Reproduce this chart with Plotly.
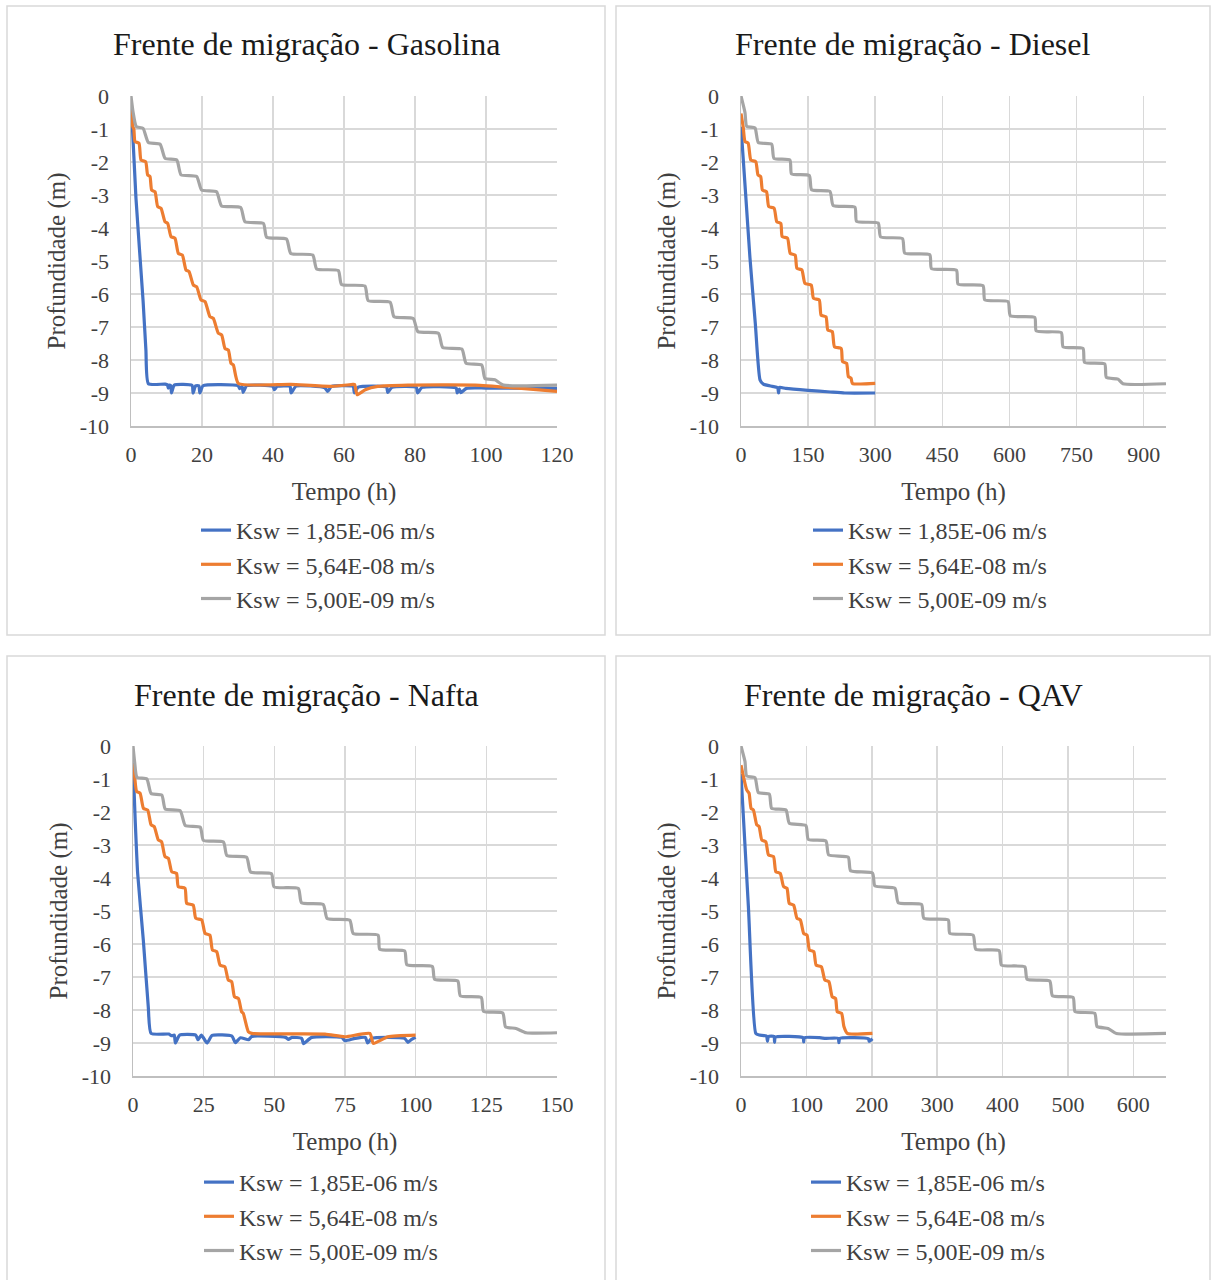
import plotly.graph_objects as go

W, H = 1211, 1280
FONT = "Liberation Serif"

SERIES_NAMES = ["Ksw = 1,85E-06 m/s", "Ksw = 5,64E-08 m/s", "Ksw = 5,00E-09 m/s"]
SERIES_COLORS = ["#4472C4", "#ED7D31", "#A5A5A5"]
CHART_TITLES = ["Frente de migração - Gasolina", "Frente de migração - Diesel",
                "Frente de migração - Nafta", "Frente de migração - QAV"]
X_TITLE = "Tempo (h)"
Y_TITLE = "Profundidade (m)"
Y_TICKVALS = [0, -1, -2, -3, -4, -5, -6, -7, -8, -9, -10]
Y_TICKTEXT = ["0", "-1", "-2", "-3", "-4", "-5", "-6", "-7", "-8", "-9", "-10"]

# ---------------- Gasolina ----------------
gas_k1_t = [0, 1.4, 3.4, 4.2, 4.9, 9.6, 10.3, 10.5, 10.8, 11.2, 11.4, 12.2, 17.2, 17.5, 18.2, 19.1, 19.4, 20.3,
            30.2, 30.6, 31.3, 31.6, 32.6, 40.0, 40.4, 41.2, 44.8, 45.1, 46.5, 54.6, 55.4, 56.5, 62.6, 62.9, 64.0,
            72.0, 72.3, 73.5, 80.4, 80.7, 82.0, 91.6, 91.9, 92.5, 92.9, 94.5, 100, 120]
gas_k1_d = [-0.1, -3.1, -6.2, -7.7, -8.72, -8.73, -8.76, -8.85, -8.76, -8.78, -9.0, -8.76, -8.77, -9.0, -8.78, -8.78,
            -9.0, -8.78, -8.78, -8.87, -8.8, -8.98, -8.78, -8.8, -8.9, -8.8, -8.8, -9.0, -8.79, -8.84, -8.95, -8.8,
            -8.8, -9.0, -8.82, -8.82, -8.98, -8.83, -8.83, -9.0, -8.83, -8.85, -9.0, -8.88, -8.99, -8.86, -8.85, -8.86]
gas_k2_t = [0, 0.5, 0.8, 1.13, 2.25, 2.82, 4.13, 4.69, 5.35, 5.82, 6.76, 7.51, 8.45, 9.58, 10.33, 11.27, 12.39,
            13.33, 14.46, 15.49, 16.34, 17.56, 18.5, 19.72, 20.85, 22.25, 23.19, 24.6, 25.54, 26.48, 27.42, 28.17,
            28.83, 30.23, 45, 56.4, 62.5, 63.0, 63.7, 66, 69.5, 78, 97, 110, 120]
gas_k2_d = [-0.42, -0.93, -1.0, -1.38, -1.43, -1.94, -1.99, -2.39, -2.44, -2.85, -2.9, -3.35, -3.4, -3.81, -3.86,
            -4.26, -4.31, -4.77, -4.82, -5.27, -5.32, -5.73, -5.78, -6.18, -6.23, -6.69, -6.74, -7.19, -7.24, -7.65,
            -7.7, -8.1, -8.15, -8.71, -8.74, -8.8, -8.74, -8.74, -9.05, -8.9, -8.8, -8.76, -8.76, -8.86, -8.95]
gas_k3_t = [0, 0.6, 1.5, 3.4, 4.9, 8.2, 9.6, 12.9, 14.1, 18.5, 19.9, 24.1, 25.5, 30.9, 32.1, 37.3, 38.2, 43.8,
            45.0, 51.2, 52.3, 58.4, 59.3, 65.9, 66.8, 73.0, 74.1, 79.5, 80.8, 86.6, 87.8, 93.2, 94.4, 98.8, 99.7,
            102.5, 104.9, 120]
gas_k3_d = [0, -0.5, -0.93, -0.98, -1.41, -1.46, -1.89, -1.94, -2.39, -2.44, -2.85, -2.9, -3.33, -3.38, -3.81,
            -3.86, -4.28, -4.33, -4.77, -4.82, -5.24, -5.29, -5.71, -5.76, -6.2, -6.25, -6.69, -6.74, -7.14, -7.19,
            -7.62, -7.67, -8.1, -8.15, -8.56, -8.6, -8.76, -8.76]

# ---------------- Diesel ----------------
die_k1_t = [0, 10, 20, 32, 42.5, 50, 70, 82, 84, 86, 100, 150, 200, 232, 300]
die_k1_d = [-0.93, -2.9, -4.9, -6.9, -8.6, -8.73, -8.8, -8.84, -9.0, -8.83, -8.86, -8.92, -8.97, -9.0, -9.0]
die_k2_t = [0, 5, 9, 16, 22, 33, 38, 44, 48, 57, 62, 74, 80, 89, 92, 104, 110, 121, 125, 136, 143, 157, 162,
            175, 179, 190, 194, 204, 209, 224, 227, 236, 240, 246, 249, 300]
die_k2_d = [-0.53, -0.95, -1.38, -1.43, -1.94, -1.99, -2.39, -2.44, -2.85, -2.9, -3.35, -3.4, -3.81, -3.86, -4.26,
            -4.31, -4.77, -4.82, -5.22, -5.27, -5.68, -5.73, -6.13, -6.18, -6.64, -6.69, -7.09, -7.14, -7.6, -7.65,
            -8.05, -8.1, -8.5, -8.55, -8.71, -8.71]
die_k3_t = [0, 8.9, 12.7, 31.3, 38.7, 68.5, 73.7, 109.4, 113, 152.6, 157.8, 198.8, 206, 254.6, 258.3, 306.7, 312,
            361, 366, 422, 425.8, 481.6, 485.3, 541, 545, 597, 602, 656.6, 660, 716, 720, 764.5, 768, 813, 816.6,
            842.7, 853.8, 950]
die_k3_d = [0, -0.5, -0.92, -0.97, -1.41, -1.46, -1.89, -1.94, -2.36, -2.41, -2.84, -2.89, -3.32, -3.37, -3.8,
            -3.85, -4.27, -4.32, -4.76, -4.81, -5.23, -5.28, -5.7, -5.75, -6.18, -6.23, -6.66, -6.71, -7.12, -7.17,
            -7.6, -7.65, -8.07, -8.12, -8.53, -8.58, -8.72, -8.72]

# ---------------- Nafta ----------------
naf_k1_t = [0, 0.8, 1.65, 3.65, 5.4, 6.4, 12.7, 13.6, 14.6, 15.0, 16.5, 22.2, 23.0, 24.2, 26.2, 28.0, 35.0, 36.2,
            38, 40.9, 42.0, 54.0, 55, 56.2, 59.7, 60.3, 63.2, 73.8, 75.0, 78.5, 82.2, 83.0, 84.4, 90.2, 96.1, 97.3,
            98.4, 100]
naf_k1_d = [-0.5, -2.3, -3.86, -5.88, -7.9, -8.71, -8.73, -8.78, -8.76, -9.0, -8.76, -8.76, -8.9, -8.76, -9.0,
            -8.77, -8.79, -8.99, -8.84, -8.9, -8.8, -8.83, -8.89, -8.83, -8.86, -9.02, -8.83, -8.83, -8.93, -8.86,
            -8.83, -9.0, -8.86, -8.83, -8.86, -8.98, -8.9, -8.83]
naf_k2_t = [0, 0.6, 1.3, 2.5, 3.7, 5.2, 6.4, 7.5, 8.96, 10.1, 11.3, 12.5, 13.7, 15.4, 16.0, 18.4, 19.0, 21.3, 22.2,
            24.3, 25.5, 27.2, 28.1, 29.6, 30.8, 32.5, 33.7, 34.9, 35.9, 37.3, 38.4, 39.0, 40.8, 42, 67.9, 75, 83.8,
            85, 90.2, 100]
naf_k2_d = [-0.53, -0.95, -1.38, -1.43, -1.89, -1.94, -2.39, -2.44, -2.85, -2.9, -3.35, -3.4, -3.81, -3.86, -4.26,
            -4.31, -4.77, -4.82, -5.22, -5.27, -5.68, -5.73, -6.18, -6.23, -6.64, -6.69, -7.09, -7.14, -7.6, -7.65,
            -8.05, -8.1, -8.66, -8.71, -8.73, -8.81, -8.71, -9.01, -8.81, -8.76]
naf_k3_t = [0, 0.6, 1.4, 4.9, 6.4, 10.2, 11.4, 16.7, 18.5, 23.8, 24.9, 32, 33.2, 40.2, 41.6, 49, 49.9, 58.5, 59.6,
            67.3, 68.7, 76.7, 77.9, 86.7, 87.3, 96.1, 96.9, 105.9, 106.7, 114.9, 115.8, 123.2, 124, 130.8, 131.8,
            135.5, 139.1, 150]
naf_k3_d = [0, -0.5, -0.95, -1.0, -1.44, -1.49, -1.91, -1.96, -2.41, -2.46, -2.86, -2.91, -3.32, -3.37, -3.82,
            -3.87, -4.27, -4.32, -4.75, -4.8, -5.23, -5.28, -5.68, -5.73, -6.16, -6.21, -6.63, -6.68, -7.07, -7.12,
            -7.57, -7.62, -8.04, -8.09, -8.51, -8.56, -8.69, -8.69]

# ---------------- QAV ----------------
qav_k1_t = [0, 11.3, 22.6, 28, 39, 40.5, 42, 50.5, 51.3, 52.5, 95, 95.9, 97, 120, 130, 148.8, 149.7, 151, 195,
            196, 201]
qav_k1_d = [-0.85, -4.87, -8.71, -8.76, -8.79, -8.95, -8.8, -8.8, -8.98, -8.82, -8.84, -8.97, -8.84, -8.84, -8.86,
            -8.86, -8.99, -8.86, -8.87, -8.95, -8.87]
qav_k2_t = [0, 4, 8.7, 12.3, 15.4, 19, 24.1, 27.7, 31.8, 37.9, 42, 49.7, 53.3, 60, 65.1, 70.3, 73.8, 80.5, 85.6,
            90.8, 95.9, 101, 104.6, 111.3, 114.9, 123, 128.2, 134.4, 139.5, 144.6, 147.2, 153.8, 157.4, 162.6, 201]
qav_k2_d = [-0.58, -0.95, -1.33, -1.43, -1.89, -1.94, -2.39, -2.44, -2.85, -2.9, -3.3, -3.35, -3.81, -3.86, -4.26,
            -4.31, -4.77, -4.82, -5.22, -5.27, -5.68, -5.73, -6.18, -6.23, -6.64, -6.69, -7.09, -7.14, -7.6, -7.65,
            -8.05, -8.1, -8.5, -8.71, -8.71]
qav_k3_t = [0, 6.1, 8.7, 21.4, 26.5, 43.3, 46.9, 68.8, 73.9, 99.3, 102.9, 129.9, 134, 164, 167.6, 201.2, 204.8,
            235.4, 240.5, 276.1, 279.7, 316.9, 319.4, 355, 359.1, 394.8, 398.4, 434, 437.6, 472.2, 476.3, 507.9,
            510.9, 541, 544.6, 561.4, 574.1, 650]
qav_k3_d = [0, -0.47, -0.91, -0.96, -1.41, -1.46, -1.89, -1.94, -2.34, -2.41, -2.83, -2.88, -3.3, -3.37, -3.78,
            -3.85, -4.24, -4.31, -4.75, -4.8, -5.22, -5.27, -5.68, -5.73, -6.16, -6.2, -6.64, -6.69, -7.07, -7.12,
            -7.57, -7.62, -8.05, -8.1, -8.5, -8.56, -8.71, -8.71]

# axis ranges / ticks
X_RANGES = [[0, 120], [0, 950], [0, 150], [0, 650]]
X_DTICKS = [20, 150, 25, 100]
Y_RANGE = [-10, 0]

CHARTS = [
    [(gas_k1_t, gas_k1_d), (gas_k2_t, gas_k2_d), (gas_k3_t, gas_k3_d)],
    [(die_k1_t, die_k1_d), (die_k2_t, die_k2_d), (die_k3_t, die_k3_d)],
    [(naf_k1_t, naf_k1_d), (naf_k2_t, naf_k2_d), (naf_k3_t, naf_k3_d)],
    [(qav_k1_t, qav_k1_d), (qav_k2_t, qav_k2_d), (qav_k3_t, qav_k3_d)],
]

# ---------------- layout geometry (pixels) ----------------
PLOT_X = [(131, 557), (741, 1166), (133, 557), (741, 1166)]
PLOT_Y = [(96, 426), (96, 426), (746, 1076), (746, 1076)]
BOXES = [(7, 6, 605, 635), (616, 6, 1210, 635), (7, 656, 605, 1290), (616, 656, 1210, 1290)]
TITLE_POS = [(306, 44), (913, 44), (306, 695), (913, 695)]
LEGEND_POS = [(196, 508), (808, 508), (199, 1160), (806, 1160)]

fx = lambda p: p / W
fy = lambda p: 1 - p / H

fig = go.Figure()
layout = dict(
    width=W, height=H,
    margin=dict(l=0, r=0, t=0, b=0, autoexpand=False),
    paper_bgcolor="white", plot_bgcolor="white",
    font=dict(family=FONT, color="#404040"),
    showlegend=True,
    shapes=[], annotations=[],
)

for i, series in enumerate(CHARTS):
    n = i + 1
    xa = "x" if n == 1 else f"x{n}"
    ya = "y" if n == 1 else f"y{n}"
    lg = "legend" if n == 1 else f"legend{n}"
    for j, (t, d) in enumerate(series):
        assert len(t) == len(d), (i, j, len(t), len(d))
        fig.add_trace(go.Scatter(
            x=t, y=d, mode="lines", name=SERIES_NAMES[j],
            line=dict(color=SERIES_COLORS[j], width=3.2, shape="spline", smoothing=0.5),
            xaxis=xa, yaxis=ya, legend=lg, legendgroup=f"c{n}s{j}",
            hoverinfo="skip",
        ))
    x0, x1 = PLOT_X[i]
    y0, y1 = PLOT_Y[i]
    xkey = "xaxis" if n == 1 else f"xaxis{n}"
    ykey = "yaxis" if n == 1 else f"yaxis{n}"
    layout[xkey] = dict(
        domain=[fx(x0), fx(x1)], anchor=ya, range=X_RANGES[i], dtick=X_DTICKS[i], tick0=0,
        showgrid=True, gridcolor="#d9d9d9", gridwidth=1.5, zeroline=False,
        showline=True, linecolor="#bfbfbf", linewidth=1.5,
        ticks="", ticklabelstandoff=8, automargin=False,
        tickfont=dict(family=FONT, size=22, color="#404040"),
        title=dict(text=X_TITLE, font=dict(family=FONT, size=25, color="#404040"), standoff=16),
        fixedrange=True,
    )
    layout[ykey] = dict(
        domain=[fy(y1), fy(y0)], anchor=xa, range=Y_RANGE,
        tickmode="array", tickvals=Y_TICKVALS, ticktext=Y_TICKTEXT,
        showgrid=True, gridcolor="#d9d9d9", gridwidth=1.5, zeroline=False,
        showline=True, linecolor="#bfbfbf", linewidth=1.5,
        ticks="", ticklabelstandoff=16, automargin=False,
        tickfont=dict(family=FONT, size=22, color="#404040"),
        title=dict(text=Y_TITLE, font=dict(family=FONT, size=25, color="#404040"), standoff=7),
        fixedrange=True,
    )
    lx, ly = LEGEND_POS[i]
    layout[lg] = dict(
        x=fx(lx), y=fy(ly), xanchor="left", yanchor="top",
        font=dict(family=FONT, size=24, color="#404040"),
        bgcolor="rgba(0,0,0,0)", tracegroupgap=0, orientation="v",
    )
    bx0, by0, bx1, by1 = BOXES[i]
    layout["shapes"].append(dict(
        type="rect", xref="paper", yref="paper",
        x0=fx(bx0), x1=fx(bx1), y0=fy(by1), y1=fy(by0),
        line=dict(color="#d9d9d9", width=1.5), layer="below",
    ))
    tx, ty = TITLE_POS[i]
    layout["annotations"].append(dict(
        text=CHART_TITLES[i], xref="paper", yref="paper", x=fx(tx), y=fy(ty),
        xanchor="center", yanchor="middle", showarrow=False,
        font=dict(family=FONT, size=32, color="#1a1a1a"),
    ))

fig.update_layout(**layout)
fig.write_html(
    "out.html",
    config={"displayModeBar": False, "staticPlot": True},
    post_script="document.body.style.margin='0';document.body.style.overflow='hidden';",
)
